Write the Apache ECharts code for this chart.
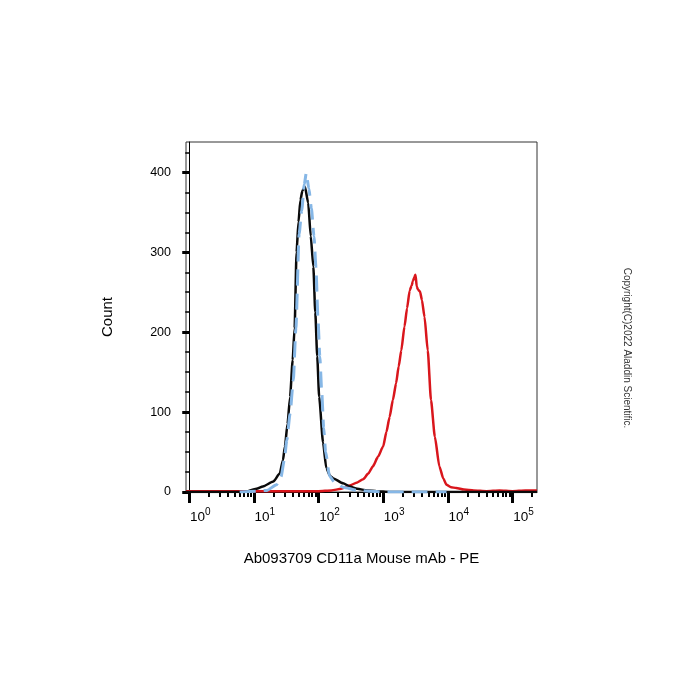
<!DOCTYPE html>
<html>
<head>
<meta charset="utf-8">
<script src="https://cdn.jsdelivr.net/npm/echarts@6.0.0/dist/echarts.min.js"></script>
<style>
  html, body { margin: 0; padding: 0; background: #fff; }
  #chart { width: 700px; height: 700px; }
</style>
</head>
<body>
<div id="chart"></div>
<script>
// x values are decades (log10 of PE intensity), y values are event counts
const majorDecades = [0, 1, 2, 3, 4, 5];
const countTicks = [0, 100, 200, 300, 400];

// red: CD11a stained
const redDec = [-0.05, 0.5, 1.0, 1.5, 2.0, 2.2, 2.35, 2.48, 2.6, 2.69, 2.77, 2.84, 2.92, 3.0, 3.05, 3.1, 3.15, 3.2, 3.24, 3.28, 3.33, 3.37, 3.41, 3.44, 3.46, 3.48, 3.5, 3.52, 3.54, 3.57, 3.6, 3.64, 3.69, 3.74, 3.8, 3.87, 3.93, 3.98, 4.05, 4.13, 4.25, 4.4, 4.6, 4.8, 5.0, 5.2, 5.38];
const redCount = [1, 1, 1, 1, 1, 2, 4, 8, 12, 16, 23, 32, 44, 57, 75, 94, 115, 136, 157, 177, 207, 230, 252, 258, 264, 268, 272, 257, 253, 251, 240, 219, 177, 115, 69, 32, 17, 9, 6, 5, 3, 2, 1, 2, 1, 2, 2];

// black: isotype control
const blackDec = [-0.05, 0.6, 0.85, 1.04, 1.14, 1.3, 1.4, 1.45, 1.48, 1.52, 1.56, 1.6, 1.63, 1.66, 1.69, 1.72, 1.75, 1.79, 1.84, 1.88, 1.92, 1.95, 1.98, 2.01, 2.07, 2.12, 2.18, 2.23, 2.38, 2.48, 2.6, 2.75, 2.9, 3.1, 5.38];
const blackCount = [0, 0, 0, 4, 7, 13, 23, 40, 57, 85, 119, 165, 205, 300, 338, 365, 377, 382, 362, 320, 282, 225, 170, 119, 62, 30, 20, 17, 11, 7, 4, 2, 1, 0, 0];

// blue dashed: unstained
const blueDec = [0.78, 1.04, 1.2, 1.35, 1.42, 1.47, 1.51, 1.56, 1.61, 1.65, 1.7, 1.74, 1.78, 1.81, 1.85, 1.89, 1.93, 1.96, 1.99, 2.02, 2.05, 2.08, 2.11, 2.17, 2.25, 2.38, 2.6, 2.8, 3.0, 3.5, 3.98];
const blueCount = [0, 1, 2, 9, 19, 40, 65, 98, 140, 205, 323, 352, 385, 399, 380, 355, 320, 282, 220, 170, 125, 80, 50, 20, 12, 6, 2, 1, 0, 0, 0];

const xMin = -0.05;
const xMax = 5.38;
const yMax = 438;

function zip(xs, ys) {
  return xs.map((x, i) => [x, ys[i]]);
}

// log minor ticks 2..9 inside each decade
const minorDecades = [];
for (let n = 0; n <= 5; n++) {
  for (let k = 2; k <= 9; k++) {
    const v = n + Math.log10(k);
    if (v <= xMax) minorDecades.push(v);
  }
}
const minorCounts = [];
for (let v = 25; v < yMax; v += 25) {
  if (v % 100 !== 0) minorCounts.push(v);
}

const chart = echarts.init(document.getElementById("chart"));

const option = {
  backgroundColor: "#fff",
  animation: false,
  grid: {
    left: 186,
    top: 142,
    width: 351,
    height: 350,
    show: true,
    borderColor: "#333",
    borderWidth: 1,
  },
  xAxis: [
    {
      type: "value",
      min: xMin,
      max: xMax,
      name: "Ab093709 CD11a Mouse mAb - PE",
      nameLocation: "middle",
      nameGap: 59,
      nameTextStyle: { fontFamily: "Liberation Sans", fontSize: 15, color: "#000" },
      axisLine: { show: true, lineStyle: { color: "#000", width: 1 } },
      axisTick: {
        show: true,
        customValues: majorDecades,
        length: 11,
        lineStyle: { color: "#000", width: 3 },
      },
      axisLabel: {
        customValues: majorDecades,
        margin: 15,
        padding: [0, 0, 0, 22],
        formatter: (v) => "{a|10}{b|" + Math.round(v) + "}",
        rich: {
          a: { fontFamily: "Liberation Sans", fontSize: 13.5, color: "#000", lineHeight: 15, padding: [6, 0, 0, 0] },
          b: { fontFamily: "Liberation Sans", fontSize: 10, color: "#000", lineHeight: 11, verticalAlign: "top" },
        },
      },
      splitLine: { show: false },
    },
    {
      // minor log ticks
      type: "value",
      position: "bottom",
      min: xMin,
      max: xMax,
      axisLine: { show: false },
      axisTick: {
        show: true,
        customValues: minorDecades,
        length: 5,
        lineStyle: { color: "#000", width: 2 },
      },
      axisLabel: { show: false },
      splitLine: { show: false },
    },
  ],
  yAxis: [
    {
      type: "value",
      min: 0,
      max: yMax,
      name: "Count",
      nameLocation: "middle",
      nameGap: 71,
      nameRotate: 90,
      nameTextStyle: { fontFamily: "Liberation Sans", fontSize: 15, color: "#000" },
      axisLine: { show: true, lineStyle: { color: "#000", width: 1 } },
      axisTick: {
        show: true,
        customValues: countTicks,
        length: 7,
        lineStyle: { color: "#000", width: 3 },
      },
      axisLabel: {
        customValues: countTicks,
        margin: 15,
        fontFamily: "Liberation Sans",
        fontSize: 12.5,
        color: "#000",
      },
      splitLine: { show: false },
    },
    {
      type: "value",
      position: "left",
      min: 0,
      max: yMax,
      axisLine: { show: false },
      axisTick: {
        show: true,
        customValues: minorCounts,
        length: 4,
        lineStyle: { color: "#000", width: 1.5 },
      },
      axisLabel: { show: false },
      splitLine: { show: false },
    },
  ],
  graphic: [
    {
      type: "text",
      x: 627,
      y: 348,
      rotation: -Math.PI / 2,
      style: {
        text: "Copyright(C)2022 Aladdin Scientific.",
        fontFamily: "Liberation Sans",
        fontSize: 10,
        fill: "#333",
        align: "center",
        verticalAlign: "middle",
      },
    },
  ],
  series: [
    {
      name: "CD11a",
      type: "line",
      data: zip(redDec, redCount),
      showSymbol: false,
      smooth: 0.2,
      smoothMonotone: "x",
      lineStyle: { color: "#d9161c", width: 2.5 },
      z: 3,
    },
    {
      name: "isotype",
      type: "line",
      data: zip(blackDec, blackCount),
      showSymbol: false,
      smooth: 0.2,
      smoothMonotone: "x",
      lineStyle: { color: "#0a0a0a", width: 2.5 },
      z: 4,
    },
    {
      name: "blank",
      type: "line",
      data: zip(blueDec, blueCount),
      showSymbol: false,
      smooth: 0.2,
      smoothMonotone: "x",
      lineStyle: { color: "#86b7e6", width: 3, type: [16, 8] },
      z: 5,
    },
  ],
};

chart.setOption(option);
</script>
</body>
</html>
